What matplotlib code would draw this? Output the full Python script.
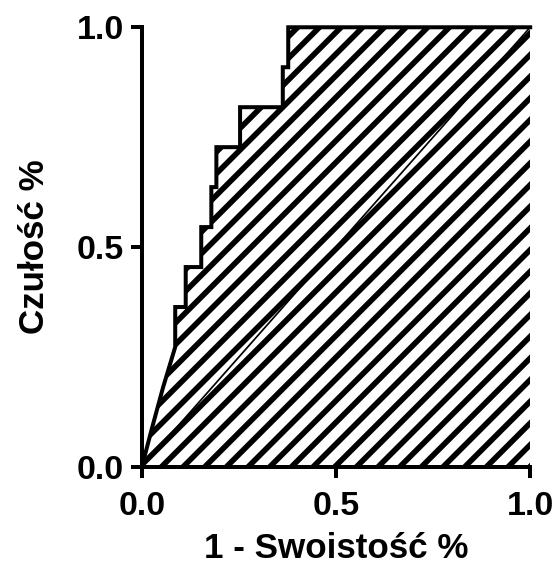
import numpy as np
import matplotlib
matplotlib.use("Agg")
import matplotlib.pyplot as plt

# ROC curve: 1 - specificity vs sensitivity (11 positives)
fpr = [0.0, 0.027, 0.055, 0.086, 0.086, 0.113, 0.113, 0.153, 0.153, 0.179, 0.179,
       0.192, 0.192, 0.253, 0.253, 0.363, 0.363, 0.377, 0.377, 1.0]
tpr = [0, 1, 2, 3, 4, 4, 5, 5, 6, 6, 7, 7, 8, 8, 9, 9, 10, 10, 11, 11]
tpr = [v / 11 for v in tpr]

ref_x = [0.0, 1.0]
ref_y = [0.0, 1.0]
ticks = [0.0, 0.5, 1.0]
tick_labels = ["0.0", "0.5", "1.0"]

DPI = 130
pt = 72.0 / DPI  # one pixel in points

plt.rcParams['font.family'] = ['Liberation Sans', 'DejaVu Sans']
plt.rcParams['font.weight'] = 'bold'
plt.rcParams['hatch.linewidth'] = 5.6 * pt

fig = plt.figure(figsize=(554 / DPI, 568 / DPI), dpi=DPI)
ax = fig.add_axes([0.256, 0.178, 0.701, 0.774])

ax.fill_between(fpr, tpr, 0, facecolor='none', edgecolor='black',
                hatch='//', linewidth=0)
ax.plot(ref_x, ref_y, color='black', linewidth=1.7 * pt)
ax.plot(fpr, tpr, color='black', linewidth=4 * pt, clip_on=False,
        solid_joinstyle='miter')

ax.set_xlim(0, 1)
ax.set_ylim(0, 1)
ax.set_xticks(ticks)
ax.set_xticklabels(tick_labels)
ax.set_yticks(ticks)
ax.set_yticklabels(tick_labels)

for side in ['top', 'right']:
    ax.spines[side].set_visible(False)
for side in ['left', 'bottom']:
    ax.spines[side].set_linewidth(4 * pt)
ax.tick_params(direction='out', length=11 * pt, width=4 * pt, labelsize=34 * pt)
ax.tick_params(axis='x', pad=13 * pt)
ax.tick_params(axis='y', pad=7 * pt)

ax.set_xlabel("1 - Swoistość %", fontsize=35 * pt, fontweight='bold',
              labelpad=10 * pt)
ax.set_ylabel("Czułość %", fontsize=35 * pt, fontweight='bold',
              labelpad=26 * pt)

fig.savefig("out.png", dpi=DPI)
